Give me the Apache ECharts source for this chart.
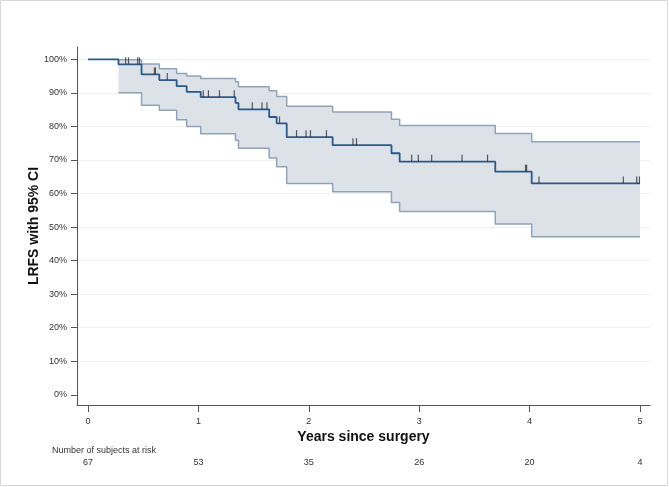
<!DOCTYPE html>
<html><head><meta charset="utf-8">
<script src="https://cdn.jsdelivr.net/npm/echarts@6/dist/echarts.min.js"></script>
<style>html,body{margin:0;padding:0;background:#fff}#c{width:669px;height:487px}</style>
</head><body><div id="c"></div>
<script>
const kmTimes    = [0, 0.276, 0.485, 0.646, 0.803, 0.894, 1.021, 1.336, 1.363, 1.641, 1.709, 1.800, 2.216, 2.749, 2.823, 3.689, 4.019, 5.0];
const kmSurvival = [100, 98.5, 95.5, 93.8, 92.0, 90.3, 88.7, 87.0, 85.1, 82.8, 80.9, 76.8, 74.4, 72.0, 69.5, 66.5, 63.0, 63.0];
const ciTimes    = [0.276, 0.485, 0.646, 0.803, 0.894, 1.021, 1.336, 1.363, 1.641, 1.709, 1.800, 2.216, 2.749, 2.823, 3.689, 4.019, 5.0];
const ciUpper    = [99.9, 98.6, 97.2, 95.8, 95.0, 94.3, 93.3, 91.8, 90.6, 88.9, 86.0, 84.3, 82.1, 80.3, 77.9, 75.4, 75.4];
const ciLower    = [90.0, 86.3, 84.8, 82.0, 80.0, 77.8, 75.9, 73.5, 70.6, 68.0, 63.0, 60.5, 57.3, 54.6, 50.9, 47.1, 47.1];
const censorTimes = [0.341, 0.367, 0.450, 0.466, 0.601, 0.611, 0.718, 1.044, 1.091, 1.191, 1.325, 1.488, 1.576, 1.621, 1.735, 1.889, 1.975, 2.015, 2.160, 2.400, 2.432, 2.932, 2.992, 3.113, 3.388, 3.619, 3.963, 3.973, 4.085, 4.849, 4.970, 4.995];
const xTicks = [0, 1, 2, 3, 4, 5];
const yTicks = [0, 10, 20, 30, 40, 50, 60, 70, 80, 90, 100];
const gridValues = [10, 20, 30, 40, 50, 60, 70, 80, 90, 100];
const atRisk = [67, 53, 35, 26, 20, 4];

const FONT = "'Liberation Sans', Arial, sans-serif";
function kmAt(t) {
  let v = kmSurvival[0];
  for (let i = 0; i < kmTimes.length; i++) { if (kmTimes[i] <= t) v = kmSurvival[i]; }
  return v;
}
const pair = (xs, ys) => xs.map((x, i) => [x, ys[i]]);

function renderBand(params, api) {
  if (params.dataIndex !== 0) return null;
  const n = ciTimes.length;
  const pts = [];
  for (let i = 0; i < n; i++) {
    pts.push(api.coord([ciTimes[i], ciUpper[i]]));
    if (i < n - 1) pts.push(api.coord([ciTimes[i + 1], ciUpper[i]]));
  }
  for (let i = n - 1; i >= 0; i--) {
    if (i < n - 1) pts.push(api.coord([ciTimes[i + 1], ciLower[i]]));
    pts.push(api.coord([ciTimes[i], ciLower[i]]));
  }
  return {type: 'polygon', shape: {points: pts}, style: {fill: '#dde2e9'}, silent: true};
}

const chart = echarts.init(document.getElementById('c'), null, {renderer: 'canvas'});
chart.setOption({
  animation: false,
  backgroundColor: '#fff',
  textStyle: {fontFamily: FONT},
  grid: {left: 77, right: 19, top: 47, bottom: 82},
  xAxis: [{
    type: 'value', min: -0.0996, max: 5.0906,
    axisLine: {show: true, onZero: false, lineStyle: {color: '#555', width: 1}},
    axisTick: {show: true, customValues: xTicks, length: 7, lineStyle: {color: '#555'}},
    axisLabel: {customValues: xTicks, margin: 12, fontSize: 9, color: '#333', fontFamily: FONT},
    splitLine: {show: false},
    name: 'Years since surgery', nameLocation: 'middle', nameGap: 25, nameMoveOverlap: false,
    nameTextStyle: {fontSize: 14, fontWeight: 'bold', color: '#111', fontFamily: FONT}
  }, {
    type: 'value', min: -0.0996, max: 5.0906, position: 'bottom', gridIndex: 0,
    axisLine: {show: false, onZero: false}, axisTick: {show: false}, splitLine: {show: false},
    axisLabel: {customValues: xTicks, margin: 53, fontSize: 9, color: '#333', fontFamily: FONT,
      formatter: v => String(atRisk[xTicks.indexOf(v)])}
  }],
  yAxis: {
    type: 'value', min: -3.04, max: 103.67,
    axisLine: {show: true, onZero: false, lineStyle: {color: '#555', width: 1}},
    axisTick: {show: true, customValues: yTicks, length: 6, lineStyle: {color: '#555'}},
    axisLabel: {customValues: yTicks, margin: 10, fontSize: 9, color: '#333', fontFamily: FONT, formatter: v => v + '%'},
    splitLine: {show: false},
    name: 'LRFS with 95% CI', nameLocation: 'middle', nameGap: 36, nameMoveOverlap: false,
    nameTextStyle: {fontSize: 14, fontWeight: 'bold', color: '#111', fontFamily: FONT}
  },
  graphic: [
    {type: 'rect', shape: {x: 0.5, y: 0.5, width: 667, height: 485}, style: {fill: 'none', stroke: '#d8d8d8', lineWidth: 1}, silent: true, z: -1},
    {type: 'text', left: 52, top: 446, style: {text: 'Number of subjects at risk', fontSize: 9, fill: '#333', fontFamily: FONT}}
  ],
  series: [
    {
      type: 'line', name: 'gridlines', data: [], silent: true, z: 0,
      markLine: {silent: true, symbol: 'none', label: {show: false}, animation: false, z: 0,
        lineStyle: {color: '#edf1f4', width: 1, type: 'solid'},
        data: gridValues.map(v => ({yAxis: v}))}
    },
    {
      type: 'custom', name: 'band', renderItem: renderBand,
      data: ciTimes.map((t, i) => [t, ciLower[i], ciUpper[i]]),
      encode: {x: 0, y: [1, 2]}, silent: true, z: 2
    },
    {
      type: 'line', name: 'upper', data: pair(ciTimes, ciUpper), step: 'end', showSymbol: false,
      lineStyle: {color: '#8fa4ba', width: 1.5}, silent: true, z: 3
    },
    {
      type: 'line', name: 'lower', data: pair(ciTimes, ciLower), step: 'end', showSymbol: false,
      lineStyle: {color: '#8fa4ba', width: 1.5}, silent: true, z: 3
    },
    {
      type: 'line', name: 'KM', data: pair(kmTimes, kmSurvival), step: 'end', showSymbol: false,
      lineStyle: {color: '#2b5a88', width: 1.8}, silent: true, z: 4
    },
    {
      type: 'scatter', name: 'censored', data: censorTimes.map(t => [t, kmAt(t)]),
      symbol: 'rect', symbolSize: [1.2, 7], symbolOffset: [0, -3.5],
      itemStyle: {color: '#333'}, silent: true, z: 5
    }
  ]
});
</script>
</body></html>
